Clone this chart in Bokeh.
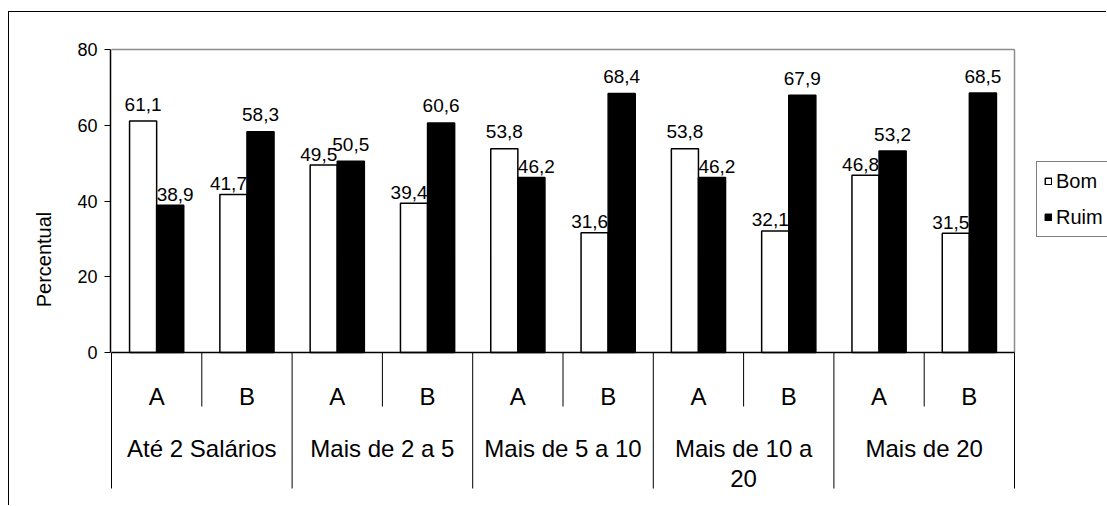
from bokeh.plotting import figure
from bokeh.models import ColumnDataSource, FixedTicker, Legend, LegendItem, Range1d
from bokeh.core.properties import value
from bokeh.embed import file_html
from bokeh.resources import INLINE

# ---------------- data ----------------
GROUPS = ["Até 2 Salários", "Mais de 2 a 5", "Mais de 5 a 10", "Mais de 10 a\n20", "Mais de 20"]
SUBS = ["A", "B"]
BOM = [61.1, 41.7, 49.5, 39.4, 53.8, 31.6, 53.8, 32.1, 46.8, 31.5]
RUIM = [38.9, 58.3, 50.5, 60.6, 46.2, 68.4, 46.2, 67.9, 53.2, 68.5]
SERIES = ["Bom", "Ruim"]
Y_TICKS = [0, 20, 40, 60, 80]
Y_LABEL = "Percentual"

# ---------------- layout (pixels) ----------------
MARGIN_L, MARGIN_T = 8, 11    # css margins before the chart-area border lines
OX, OY = MARGIN_L + 1, MARGIN_T + 1   # page position of the canvas origin
W, H = 1107 - OX, 506 - OY
FRAME_LEFT = 110 - OX         # y-axis panel width (axis at page x 110)
X0_PX = 111 - OX              # canvas x of the first category boundary
SLOT_PX = 90.3                # width of one sub-category slot
Y0_PX = 352 - OY              # canvas y of value 0
PXU = 303 / 80                # pixels per percent
FONT = "Liberation Sans"


def y_at(page_y):
    """value-axis coordinate of a page pixel row"""
    return (Y0_PX - (page_y - OY)) / PXU


n = len(BOM)
x_start = (FRAME_LEFT - X0_PX) / SLOT_PX
x_end = (W - X0_PX) / SLOT_PX
y_top = (Y0_PX - 0) / PXU
y_bot = (Y0_PX - H) / PXU

p = figure(width=W, height=H, output_backend="svg", toolbar_location=None, tools="",
           x_range=Range1d(x_start, x_end), y_range=Range1d(y_bot, y_top),
           x_axis_location=None, title=None,
           min_border=0, min_border_left=FRAME_LEFT)
p.outline_line_color = None
p.background_fill_color = "white"
p.border_fill_color = "white"
p.grid.visible = False
p.styles = {"margin-left": f"{MARGIN_L}px", "margin-top": f"{MARGIN_T}px",
            "border-left": "1px solid #000000", "border-top": "1px solid #000000"}

# plot-area border (grey, top + right)
p.segment(x0=[0, n], y0=[Y_TICKS[-1], 0], x1=[n, n], y1=[Y_TICKS[-1], Y_TICKS[-1]],
          line_color="#8c8c8c", line_width=1.5)

# bars
xc = [i + 0.5 for i in range(n)]
src = ColumnDataSource(dict(xw=[x - 0.15 for x in xc], xb=[x + 0.15 for x in xc], bom=BOM, ruim=RUIM))
rw = p.vbar(x="xw", top="bom", bottom=0, width=0.3, source=src,
            fill_color="white", line_color="black", line_width=1.5)
rb = p.vbar(x="xb", top="ruim", bottom=0, width=0.3, source=src,
            fill_color="black", line_color="black", line_width=1.5)

# data labels (moved beside a taller neighbour, as the original does)
lx, ly, lt, la, lo = [], [], [], [], []
for i in range(n):
    w, b = BOM[i], RUIM[i]
    if b > w:
        lx.append(xc[i]); la.append("right"); lo.append(-11)
    else:
        lx.append(xc[i] - 0.15); la.append("center"); lo.append(-17)
    ly.append(w); lt.append(f"{w:.1f}".replace(".", ","))
    if w > b:
        lx.append(xc[i]); la.append("left"); lo.append(-11)
    else:
        lx.append(xc[i] + 0.15); la.append("center"); lo.append(-17)
    ly.append(b); lt.append(f"{b:.1f}".replace(".", ","))
p.text(x=lx, y=ly, text=lt, text_align=la, y_offset=lo, text_baseline="alphabetic",
       text_font=value(FONT), text_font_size="19px", text_color="black")

# category axis (table style)
p.segment(x0=[0], y0=[0], x1=[n], y1=[0], line_color="black", line_width=1.5)
sub_bottom = y_at(406)
grp_bottom = y_at(488)
p.segment(x0=list(range(1, n, 2)), y0=[0] * (n // 2), x1=list(range(1, n, 2)), y1=[sub_bottom] * (n // 2),
          line_color="black", line_width=1)
p.segment(x0=list(range(0, n + 1, 2)), y0=[0] * (n // 2 + 1), x1=list(range(0, n + 1, 2)),
          y1=[grp_bottom] * (n // 2 + 1), line_color="black", line_width=1)

p.text(x=xc, y=[y_at(396)] * n, text=[SUBS[i % 2] for i in range(n)], text_align="center",
       text_baseline="alphabetic", text_font=value(FONT), text_font_size="24px", text_color="black")

gx, gy, gt = [], [], []
for g, label in enumerate(GROUPS):
    for k, line in enumerate(label.split("\n")):
        gx.append(2 * g + 1)
        gy.append(y_at(448 + 30 * k))
        gt.append(line)
p.text(x=gx, y=gy, text=gt, text_align="center", text_baseline="alphabetic",
       text_font=value(FONT), text_font_size="24px", text_color="black")

# value axis
ax = p.yaxis[0]
ax.ticker = FixedTicker(ticks=Y_TICKS)
ax.bounds = (Y_TICKS[0], Y_TICKS[-1])
ax.axis_line_color = "black"
ax.axis_line_width = 1.5
ax.major_tick_line_color = "black"
ax.major_tick_in = 0
ax.major_tick_out = 6
ax.minor_tick_line_color = None
ax.major_label_text_font = FONT
ax.major_label_text_font_size = "18px"
ax.major_label_text_color = "black"
ax.major_label_standoff = 7
ax.axis_label = Y_LABEL
ax.axis_label_text_font = FONT
ax.axis_label_text_font_size = "20px"
ax.axis_label_text_font_style = "normal"
ax.axis_label_text_color = "black"
ax.axis_label_standoff = 19

# legend
legend = Legend(items=[LegendItem(label=SERIES[0], renderers=[rw]),
                       LegendItem(label=SERIES[1], renderers=[rb])],
                location=(1036 - OX - FRAME_LEFT, H - (237 - OY)), margin=0, padding=7, spacing=12,
                label_height=24, label_width=80, glyph_width=8, glyph_height=8, label_standoff=4,
                label_text_font=FONT, label_text_font_size="20px", label_text_color="black",
                border_line_color="black", border_line_width=1, background_fill_color="white")
p.add_layout(legend)

open("out.html", "w").write(file_html(p, INLINE))
